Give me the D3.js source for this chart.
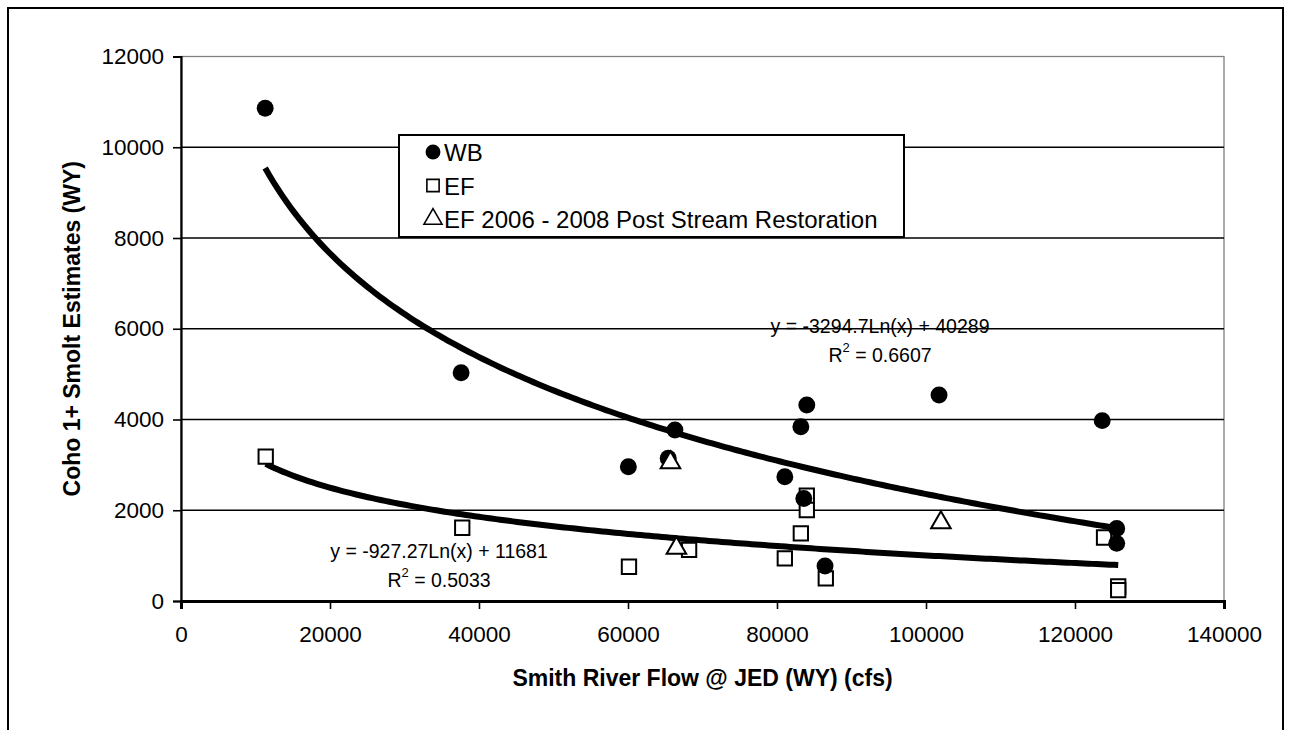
<!DOCTYPE html>
<html>
<head>
<meta charset="utf-8">
<script src="https://cdn.jsdelivr.net/npm/d3@7.9.0/dist/d3.min.js"></script>
<style>
  body { margin: 0; background: #fff; }
  svg { display: block; font-family: "Liberation Sans", Arial, sans-serif; }
</style>
</head>
<body>
<svg id="chart" width="1290" height="730"></svg>
<script>
// ===== data =====
const wbFlow  = [11300, 37600, 60050, 65400, 66300, 81050, 83200, 84000, 83600, 86450, 101750, 123650, 125600, 125600];
const wbSmolt = [10860, 5030, 2960, 3145, 3770, 2740, 3840, 4320, 2260, 770, 4540, 3975, 1600, 1270];

const efFlow  = [11370, 37750, 60130, 68200, 81050, 83200, 84000, 84000, 86550, 123900, 125800, 125800];
const efSmolt = [3180, 1615, 755, 1125, 940, 1490, 2320, 2005, 500, 1400, 320, 240];

const efPostFlow  = [65700, 66500, 102000];
const efPostSmolt = [3050, 1165, 1730];

const xTicks = [0, 20000, 40000, 60000, 80000, 100000, 120000, 140000];
const yTicks = [0, 2000, 4000, 6000, 8000, 10000, 12000];

// trendline coefficients as printed on the chart
const wbFit = { a: -3294.7, b: 40289, label: 'y = -3294.7Ln(x) + 40289', r2: '0.6607' };
const efFit = { a: -927.27, b: 11681, label: 'y = -927.27Ln(x) + 11681', r2: '0.5033' };

const legendLabels = ['WB', 'EF', 'EF 2006 - 2008 Post Stream Restoration'];

// ===== layout =====
const plot = { left: 181, right: 1224, top: 56.5, bottom: 601 };
const svg = d3.select('#chart');

const x = d3.scaleLinear().domain([0, 140000]).range([plot.left, plot.right]);
const y = d3.scaleLinear().domain([0, 12000]).range([plot.bottom, plot.top]);

// outer chart frame (bottom edge runs off the page)
svg.append('rect')
  .attr('x', 8).attr('y', 8).attr('width', 1275).attr('height', 760)
  .attr('fill', 'none').attr('stroke', '#000').attr('stroke-width', 2);

// plot area border (grey)
svg.append('rect')
  .attr('x', plot.left).attr('y', plot.top)
  .attr('width', plot.right - plot.left).attr('height', plot.bottom - plot.top)
  .attr('fill', 'none').attr('stroke', '#808080').attr('stroke-width', 1.3);

// gridlines
svg.append('g')
  .selectAll('line')
  .data(yTicks.filter(d => d > 0 && d < 12000))
  .join('line')
  .attr('x1', plot.left).attr('x2', plot.right)
  .attr('y1', d => y(d)).attr('y2', d => y(d))
  .attr('stroke', '#000').attr('stroke-width', 1.4);

// axes
const yAxis = svg.append('g')
  .attr('transform', `translate(${plot.left},0)`)
  .call(d3.axisLeft(y).tickValues(yTicks).tickSize(8).tickPadding(9).tickFormat(d3.format('d')));
const xAxis = svg.append('g')
  .attr('transform', `translate(0,${plot.bottom})`)
  .call(d3.axisBottom(x).tickValues(xTicks).tickSize(8).tickPadding(17).tickFormat(d3.format('d')));

[yAxis, xAxis].forEach(g => {
  g.selectAll('text').attr('font-size', 22.5).attr('fill', '#000')
    .attr('font-family', '"Liberation Sans", Arial, sans-serif');
  g.selectAll('line').attr('stroke', '#000').attr('stroke-width', 1.6);
});
yAxis.select('.domain').attr('stroke', '#000').attr('stroke-width', 2.2);
xAxis.select('.domain').attr('stroke', '#000').attr('stroke-width', 3);

// axis titles
svg.append('text')
  .attr('x', (plot.left + plot.right) / 2).attr('y', 686)
  .attr('text-anchor', 'middle').attr('font-size', 23).attr('font-weight', 'bold')
  .text('Smith River Flow @ JED (WY) (cfs)');
svg.append('text')
  .attr('transform', `translate(80,${(plot.top + plot.bottom) / 2}) rotate(-90)`)
  .attr('text-anchor', 'middle').attr('font-size', 23).attr('font-weight', 'bold')
  .text('Coho 1+ Smolt Estimates (WY)');

// ===== trendlines =====
function fitCurve(fit, xs) {
  const lo = d3.min(xs), hi = d3.max(xs);
  return d3.range(0, 201).map(i => {
    const fx = lo + (hi - lo) * i / 200;
    return [fx, fit.a * Math.log(fx) + fit.b];
  });
}
const line = d3.line().x(d => x(d[0])).y(d => y(d[1]));

svg.append('path')
  .attr('d', line(fitCurve(wbFit, wbFlow)))
  .attr('fill', 'none').attr('stroke', '#000').attr('stroke-width', 6);
svg.append('path')
  .attr('d', line(fitCurve(efFit, efFlow)))
  .attr('fill', 'none').attr('stroke', '#000').attr('stroke-width', 6);

// ===== markers =====
const sym = {
  circle: d3.symbol().type(d3.symbolCircle).size(225),
  square: d3.symbol().type(d3.symbolSquare).size(205),
  triangle: d3.symbol().type(d3.symbolTriangle).size(165)
};

svg.append('g').selectAll('path')
  .data(d3.zip(efFlow, efSmolt))
  .join('path')
  .attr('transform', d => `translate(${x(d[0])},${y(d[1])})`)
  .attr('d', sym.square())
  .attr('fill', '#fff').attr('stroke', '#000').attr('stroke-width', 2);

svg.append('g').selectAll('path')
  .data(d3.zip(wbFlow, wbSmolt))
  .join('path')
  .attr('transform', d => `translate(${x(d[0])},${y(d[1])})`)
  .attr('d', sym.circle())
  .attr('fill', '#000');

svg.append('g').selectAll('path')
  .data(d3.zip(efPostFlow, efPostSmolt))
  .join('path')
  .attr('transform', d => `translate(${x(d[0])},${y(d[1])})`)
  .attr('d', sym.triangle())
  .attr('fill', '#fff').attr('stroke', '#000').attr('stroke-width', 2);

// ===== trendline labels =====
function fitLabel(fit, cx, cy) {
  const g = svg.append('g').attr('font-size', 19.5).attr('text-anchor', 'middle');
  g.append('text').attr('x', cx).attr('y', cy).text(fit.label);
  const r = g.append('text').attr('x', cx).attr('y', cy + 29);
  r.append('tspan').text('R');
  r.append('tspan').attr('font-size', 13).attr('dy', -10).text('2');
  r.append('tspan').attr('dy', 10).text(' = ' + fit.r2);
}
fitLabel(wbFit, 880, 333);
fitLabel(efFit, 439, 558);

// ===== legend =====
const legend = svg.append('g');
legend.append('rect')
  .attr('x', 399).attr('y', 135).attr('width', 505).attr('height', 102)
  .attr('fill', '#fff').attr('stroke', '#000').attr('stroke-width', 2);

const legendSyms = [
  { s: d3.symbol().type(d3.symbolCircle).size(175)(), fill: '#000' },
  { s: d3.symbol().type(d3.symbolSquare).size(150)(), fill: '#fff' },
  { s: d3.symbol().type(d3.symbolTriangle).size(140)(), fill: '#fff' }
];
legendLabels.forEach((lab, i) => {
  const cy = 152 + i * 33.5;
  legend.append('path')
    .attr('transform', `translate(${433},${cy})`)
    .attr('d', legendSyms[i].s)
    .attr('fill', legendSyms[i].fill)
    .attr('stroke', '#000').attr('stroke-width', i === 0 ? 0 : 1.6);
  legend.append('text')
    .attr('x', 444).attr('y', cy + 9)
    .attr('font-size', 24).text(lab);
});
</script>
</body>
</html>
